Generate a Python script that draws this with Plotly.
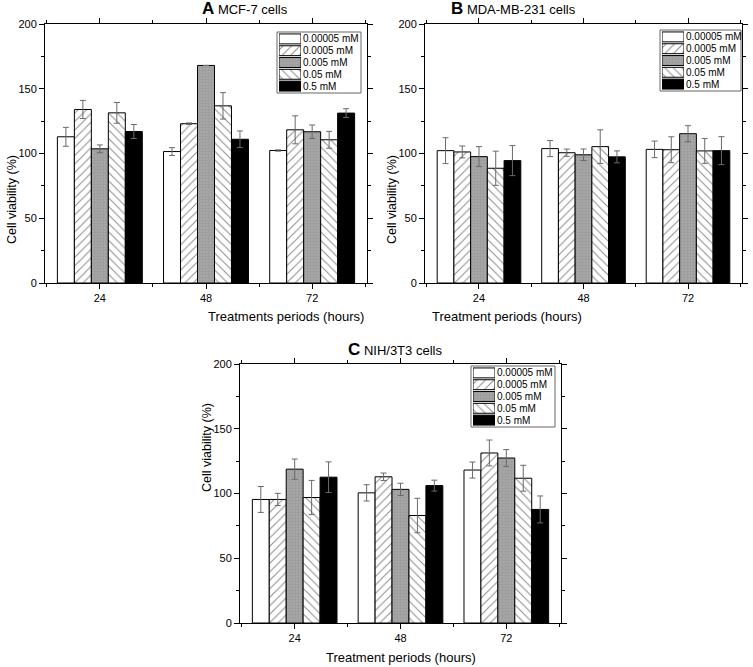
import plotly.graph_objects as go

# 処理時間（時間）
periods = [24, 48, 72]
concentrations = ["0.00005 mM", "0.0005 mM", "0.005 mM", "0.05 mM", "0.5 mM"]

# A: MCF-7 細胞（濃度ごと、24/48/72 h）
mcf7_mean = [
    [112.9, 101.5, 102.3],
    [134.0, 123.0, 118.3],
    [103.6, 168.0, 116.8],
    [131.4, 136.8, 110.6],
    [117.0, 111.0, 131.2],
]
mcf7_err = [
    [7.3, 3.0, 0.5],
    [7.0, 0.6, 10.8],
    [3.0, 0.0, 5.2],
    [8.0, 10.2, 6.5],
    [5.4, 6.4, 3.4],
]

# B: MDA-MB-231 細胞
mda_mean = [
    [102.2, 103.8, 103.2],
    [101.2, 100.6, 102.9],
    [97.6, 99.0, 115.3],
    [88.6, 105.3, 102.0],
    [94.5, 97.4, 102.2],
]
mda_err = [
    [10.0, 6.2, 6.4],
    [4.6, 2.8, 10.0],
    [7.7, 4.5, 6.2],
    [13.2, 13.0, 9.6],
    [11.6, 4.6, 10.8],
]

# C: NIH/3T3 細胞
nih_mean = [
    [95.4, 100.5, 118.1],
    [95.4, 112.9, 131.3],
    [118.8, 103.2, 127.4],
    [96.9, 83.0, 111.8],
    [112.6, 106.1, 87.7],
]
nih_err = [
    [10.0, 6.3, 6.2],
    [4.7, 2.9, 10.0],
    [7.8, 4.7, 6.5],
    [13.2, 13.3, 10.0],
    [11.8, 4.2, 10.4],
]

FONT = "Arial, Liberation Sans, sans-serif"

# 各濃度の塗りつぶしスタイル
styles = [
    dict(color="white"),
    dict(color="white", pattern=dict(shape="/", fgcolor="#111111", bgcolor="white", size=6, solidity=0.16)),
    dict(color="#9c9c9c", pattern=dict(shape="+", fgcolor="#888888", bgcolor="#a6a6a6", size=3, solidity=0.3)),
    dict(color="white", pattern=dict(shape="\\", fgcolor="#111111", bgcolor="white", size=6, solidity=0.16)),
    dict(color="black"),
]

panels = [
    # (平均, 誤差, 文字, 細胞名, x軸タイトル)
    (mcf7_mean, mcf7_err, "A", "MCF-7 cells", "Treatments periods (hours)"),
    (mda_mean, mda_err, "B", "MDA-MB-231 cells", "Treatment periods (hours)"),
    (nih_mean, nih_err, "C", "NIH/3T3 cells", "Treatment periods (hours)"),
]

W, H = 753, 667
# パネル位置（ピクセル: 左, 右, 上, 下）
boxes = [
    (45, 367, 24, 283),
    (425, 742, 24, 283),
    (240, 561, 364, 623),
]
# 凡例の枠（ピクセル）
legend_boxes = [
    (277, 361, 32, 93),
    (660, 741, 30, 91),
    (471, 555, 366, 427),
]

fig = go.Figure()

axis_common = dict(
    showline=True, linecolor="black", linewidth=1, mirror="ticks",
    ticks="outside", ticklen=5, tickcolor="black", tickwidth=1,
    showgrid=False, zeroline=False,
    tickfont=dict(family=FONT, size=11, color="black"),
)

layout = dict(
    width=W, height=H,
    margin=dict(l=0, r=0, t=0, b=0, autoexpand=False),
    paper_bgcolor="white", plot_bgcolor="rgba(0,0,0,0)",
    barmode="group", bargap=0.2, bargroupgap=0,
    font=dict(family=FONT, color="black"),
    showlegend=False,
    annotations=[], shapes=[],
)

for k, (mean, err, letter, name, xtitle) in enumerate(panels):
    sfx = "" if k == 0 else str(k + 1)
    for i, conc in enumerate(concentrations):
        fig.add_trace(go.Bar(
            x=periods, y=mean[i], name=conc,
            xaxis="x" + sfx, yaxis="y" + sfx,
            marker=dict(line=dict(color="black", width=1), **styles[i]),
            error_y=dict(type="data", array=err[i], color="#6a6a6a", thickness=1, width=3),
        ))

    x0, x1, y0, y1 = boxes[k]
    layout["xaxis" + sfx] = dict(
        axis_common, domain=[x0 / W, x1 / W], anchor="y" + sfx,
        range=[11.6, 84.4], tickvals=periods,
        minor=dict(dtick=12, tick0=0, ticklen=3, ticks="outside", tickcolor="black"),
    )
    layout["yaxis" + sfx] = dict(
        axis_common, domain=[1 - y1 / H, 1 - y0 / H], anchor="x" + sfx,
        range=[0, 200], dtick=50,
        minor=dict(dtick=25, ticklen=3, ticks="outside", tickcolor="black"),
    )

    # 凡例: 見本の棒を小さな軸に描く
    lsfx = str(k + 4)
    bx0, bx1, by0, by1 = legend_boxes[k]
    layout["shapes"].append(dict(
        type="rect", xref="paper", yref="paper",
        x0=bx0 / W, x1=bx1 / W, y0=1 - by1 / H, y1=1 - by0 / H,
        line=dict(color="#666666", width=1), fillcolor="white", layer="below",
    ))
    for i, conc in enumerate(concentrations):
        fig.add_trace(go.Bar(
            x=[1], y=[conc], orientation="h", width=0.84, offset=-0.42,
            xaxis="x" + lsfx, yaxis="y" + lsfx, hoverinfo="skip",
            marker=dict(line=dict(color="black", width=1), **styles[i]),
        ))
    layout["xaxis" + lsfx] = dict(
        domain=[(bx0 + 2) / W, (bx0 + 24) / W], anchor="y" + lsfx,
        range=[0, 1], visible=False, fixedrange=True,
    )
    layout["yaxis" + lsfx] = dict(
        domain=[1 - (by1 - 1) / H, 1 - (by0 + 1) / H], anchor="x" + lsfx,
        type="category", categoryorder="array", categoryarray=concentrations,
        tickmode="array", tickvals=concentrations,
        range=[4.5, -0.5], side="right", showline=False, showgrid=False,
        ticks="", ticklabelstandoff=1, fixedrange=True,
        tickfont=dict(family=FONT, size=10, color="black"),
    )

    cx = (x0 + x1) / 2 / W
    # パネルタイトル
    layout["annotations"].append(dict(
        text="<b><span style='font-size:17px'>%s</span></b> %s" % (letter, name),
        x=cx - 6 / W, y=1 - (y0 - 15) / H,
        xref="paper", yref="paper", showarrow=False,
        font=dict(family=FONT, size=13), yanchor="middle",
    ))
    # x軸タイトル
    layout["annotations"].append(dict(
        text=xtitle, x=cx, y=1 - (y1 + 34) / H,
        xref="paper", yref="paper", showarrow=False,
        font=dict(family=FONT, size=13), yanchor="middle",
    ))
    # y軸タイトル
    layout["annotations"].append(dict(
        text="Cell viability (%)", x=(x0 - 33) / W, y=1 - (y0 + y1) / 2 / H,
        xref="paper", yref="paper", showarrow=False, textangle=-90,
        font=dict(family=FONT, size=12.5), xanchor="center",
    ))

fig.update_layout(**layout)

# ページ余白をなくして図を左上に合わせる
fig.write_html(
    "out.html",
    config={"displayModeBar": False},
    post_script="document.body.style.margin='0';",
)
